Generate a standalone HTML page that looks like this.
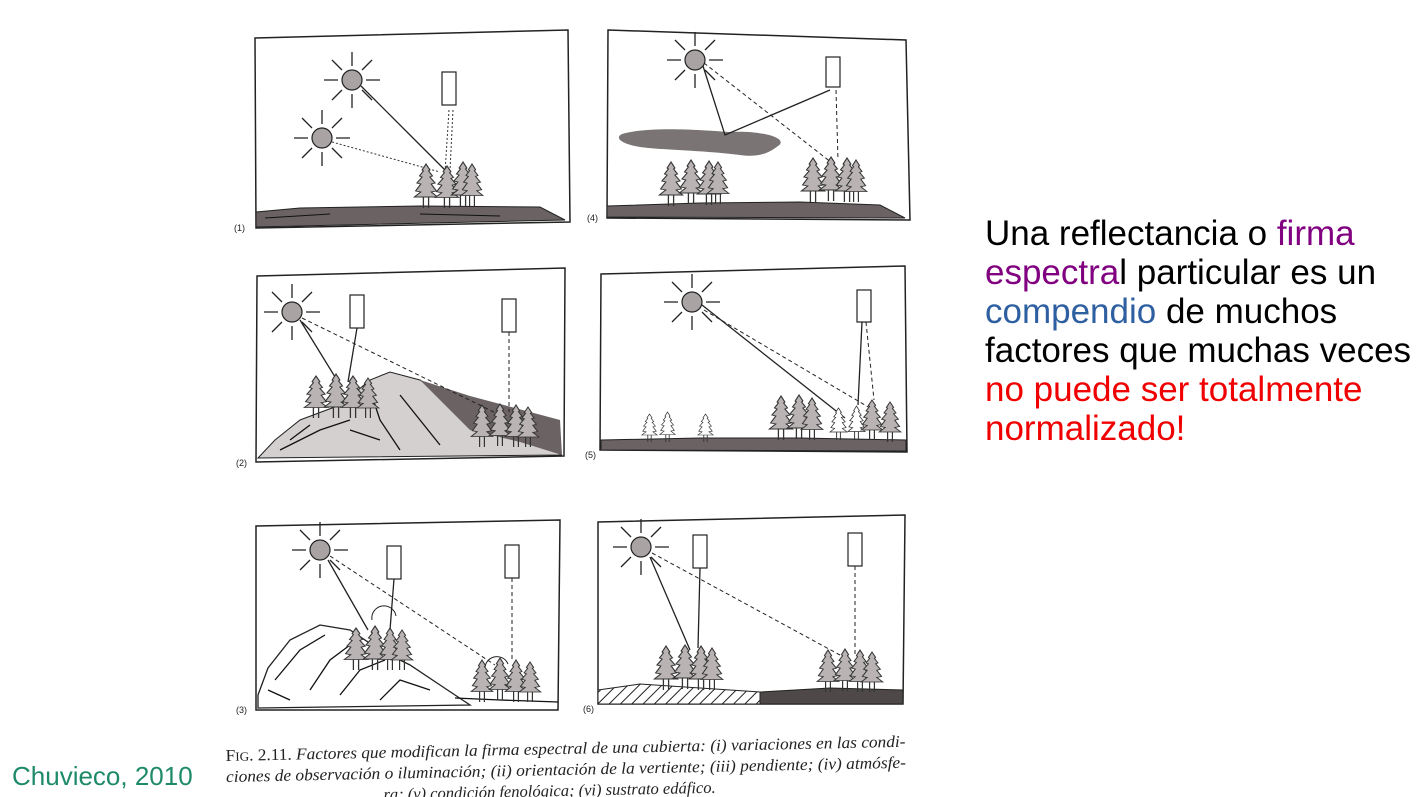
<!DOCTYPE html>
<html><head><meta charset="utf-8"><style>
html,body{margin:0;padding:0;background:#fff;width:1418px;height:797px;overflow:hidden}
#fig{position:absolute;left:0;top:0}
.rt{position:absolute;left:985px;top:214px;font-family:"Liberation Sans",sans-serif;font-size:35px;line-height:39px;color:#000;white-space:nowrap}
.cite{position:absolute;left:12px;top:761px;font-family:"Liberation Sans",sans-serif;font-size:26px;color:#1f8a6a}
</style></head><body>
<svg id="fig" width="1418" height="797" viewBox="0 0 1418 797">
<defs>
<symbol id="tree" viewBox="0 0 20 44" overflow="visible" preserveAspectRatio="none">
<path d="M10 0 L13 6 L12 7 L15 12 L13 13 L17 19 L14 20 L18 27 L14 28 L19 33 L1 33 L6 28 L2 27 L6 20 L3 19 L7 13 L5 12 L8 7 L7 6 Z" fill="#b9b3b3" stroke="#333" stroke-width="0.9"/>
<path d="M8 33 V44 M12 33 V44" stroke="#333" stroke-width="1"/>
</symbol>
<symbol id="wtree" viewBox="0 0 20 44" overflow="visible" preserveAspectRatio="none">
<path d="M10 0 L13 6 L12 7 L15 12 L13 13 L17 19 L14 20 L18 27 L14 28 L19 33 L1 33 L6 28 L2 27 L6 20 L3 19 L7 13 L5 12 L8 7 L7 6 Z" fill="#fff" stroke="#333" stroke-width="0.9"/>
<path d="M8 33 V44 M12 33 V44" stroke="#333" stroke-width="1"/>
</symbol>
<symbol id="sun" viewBox="-30 -30 60 60" overflow="visible">
<g stroke="#222" stroke-width="1.3"><path d="M0 -14 V-28 M0 14 V28 M-14 0 H-28 M14 0 H28 M10 -10 L20 -20 M-10 -10 L-20 -20 M10 10 L20 20 M-10 10 L-20 20"/></g>
<circle r="10" fill="#a9a3a3" stroke="#222" stroke-width="1.2"/>
</symbol>
<pattern id="hatch" width="8" height="8" patternUnits="userSpaceOnUse" patternTransform="rotate(45)"><rect width="8" height="8" fill="#fff"/><line x1="0" y1="0" x2="0" y2="8" stroke="#222" stroke-width="2"/></pattern>
</defs>
<g font-family="Liberation Sans,sans-serif" font-size="9" fill="#222">
<g>
<path d="M255 38 L568 30 L570 222 L256 228 Z" fill="#fff" stroke="#222" stroke-width="1.5"/>
<path d="M256 212 L300 208 L420 206 L540 207 L565 220 L256 227 Z" fill="#6b6363" stroke="#222"/>
<path d="M265 218 L330 214 M420 214 L500 216" stroke="#111" fill="none"/>
<use href="#sun" x="322" y="50" width="60" height="60"/>
<use href="#sun" x="292" y="108" width="60" height="60"/>
<rect x="442" y="72" width="14" height="33" fill="#fff" stroke="#222" stroke-width="1.2"/>
<path d="M361 86 L447 172" stroke="#222" stroke-width="1.3"/>
<path d="M332 142 L440 172 M449 110 L445 172 M453 110 L450 170" stroke="#333" stroke-dasharray="2,2" fill="none"/>
<use href="#tree" x="413" y="164" width="26" height="44"/>
<use href="#tree" x="434" y="166" width="26" height="42"/>
<use href="#tree" x="450" y="162" width="26" height="44"/>
<use href="#tree" x="460" y="164" width="24" height="42"/>
<text x="234" y="231">(1)</text>
</g>
<g>
<path d="M608 30 L906 40 L910 220 L607 218 Z" fill="#fff" stroke="#222" stroke-width="1.5"/>
<path d="M607 206 L700 203 L800 202 L880 205 L905 218 L607 217 Z" fill="#6b6363" stroke="#222"/>
<path d="M622 134 C650 126 700 130 730 132 C760 130 790 138 778 146 C770 152 760 158 740 155 C700 150 660 150 640 147 C622 144 614 138 622 134Z" fill="#7a7474"/>
<use href="#sun" x="665" y="30" width="60" height="60"/>
<rect x="826" y="57" width="14" height="30" fill="#fff" stroke="#222" stroke-width="1.2"/>
<path d="M703 66 L725 135 L830 90" stroke="#222" stroke-width="1.3" fill="none"/>
<path d="M704 63 L832 163 M836 90 L838 160" stroke="#222" stroke-dasharray="4,3" fill="none"/>
<use href="#tree" x="658" y="162" width="26" height="44"/>
<use href="#tree" x="678" y="160" width="26" height="44"/>
<use href="#tree" x="696" y="161" width="26" height="44"/>
<use href="#tree" x="706" y="162" width="24" height="42"/>
<use href="#tree" x="800" y="158" width="26" height="44"/>
<use href="#tree" x="818" y="157" width="26" height="44"/>
<use href="#tree" x="834" y="158" width="26" height="44"/>
<use href="#tree" x="844" y="160" width="24" height="42"/>
<text x="587" y="221">(4)</text>
</g>
<g>
<path d="M257 276 L565 268 L564 456 L256 462 Z" fill="#fff" stroke="#222" stroke-width="1.5"/>
<path d="M258 458 L275 440 L300 420 L340 405 L370 380 L390 372 L420 380 L450 400 L480 415 L520 435 L562 455 Z" fill="#d4d0d0" stroke="#222"/>
<path d="M420 380 L470 396 L560 420 L562 455 L520 442 L470 430 Z" fill="#6b6363"/>
<path d="M280 450 L320 430 L350 420 M370 390 L380 420 L400 450 M400 395 L420 420 L440 445 M290 440 L310 425 M350 430 L380 440" stroke="#111" fill="none" stroke-width="1.3"/>
<use href="#sun" x="262" y="282" width="60" height="60"/>
<rect x="350" y="295" width="14" height="33" fill="#fff" stroke="#222" stroke-width="1.2"/>
<rect x="502" y="299" width="14" height="33" fill="#fff" stroke="#222" stroke-width="1.2"/>
<path d="M300 320 L340 385 M357 328 L348 382" stroke="#222" stroke-width="1.3" fill="none"/>
<path d="M302 318 L500 415 M509 332 L509 412" stroke="#222" stroke-dasharray="4,3" fill="none"/>
<use href="#tree" x="303" y="376" width="26" height="42"/>
<use href="#tree" x="323" y="374" width="26" height="44"/>
<use href="#tree" x="340" y="376" width="26" height="42"/>
<use href="#tree" x="356" y="378" width="24" height="40"/>
<use href="#tree" x="470" y="405" width="24" height="42"/>
<use href="#tree" x="488" y="404" width="24" height="42"/>
<use href="#tree" x="504" y="405" width="24" height="42"/>
<use href="#tree" x="516" y="407" width="24" height="40"/>
<text x="236" y="466">(2)</text>
</g>
<g>
<path d="M601 274 L905 266 L907 452 L600 450 Z" fill="#fff" stroke="#222" stroke-width="1.5"/>
<path d="M601 440 L700 438 L800 438 L906 440 L906 451 L601 450 Z" fill="#6b6363" stroke="#222"/>
<use href="#sun" x="662" y="272" width="60" height="60"/>
<rect x="857" y="290" width="14" height="32" fill="#fff" stroke="#222" stroke-width="1.2"/>
<path d="M702 305 L845 418 M862 322 L858 405" stroke="#222" stroke-width="1.3" fill="none"/>
<path d="M704 310 L870 408 M866 322 L874 400" stroke="#222" stroke-dasharray="4,3" fill="none"/>
<use href="#wtree" x="641" y="414" width="17" height="28"/>
<use href="#wtree" x="659" y="412" width="17" height="30"/>
<use href="#wtree" x="697" y="414" width="17" height="28"/>
<use href="#tree" x="768" y="396" width="26" height="44"/>
<use href="#tree" x="786" y="395" width="26" height="44"/>
<use href="#tree" x="800" y="398" width="24" height="42"/>
<use href="#wtree" x="829" y="408" width="19" height="32"/>
<use href="#wtree" x="847" y="406" width="19" height="34"/>
<use href="#tree" x="860" y="400" width="24" height="40"/>
<use href="#tree" x="878" y="402" width="24" height="40"/>
<text x="585" y="458">(5)</text>
</g>
<g>
<path d="M256 526 L560 520 L558 710 L256 710 Z" fill="#fff" stroke="#222" stroke-width="1.5"/>
<path d="M258 695 L268 668 L290 640 L320 625 L350 630 L380 650 L410 665 L440 685 L470 705 L258 708 Z" fill="#fff" stroke="#222" stroke-width="1.3"/>
<path d="M275 680 L300 650 L325 635 M310 690 L330 660 L350 645 M340 695 L360 670 L385 660 M380 700 L400 680 L430 690 M268 690 L290 700 M455 698 L500 700 L558 702" stroke="#111" fill="none" stroke-width="1.3"/>
<use href="#sun" x="290" y="520" width="60" height="60"/>
<rect x="387" y="546" width="14" height="33" fill="#fff" stroke="#222" stroke-width="1.2"/>
<rect x="505" y="545" width="14" height="33" fill="#fff" stroke="#222" stroke-width="1.2"/>
<path d="M328 560 L368 630 M394 579 L390 630" stroke="#222" stroke-width="1.3" fill="none"/>
<path d="M330 556 L495 665 M512 578 L512 662" stroke="#222" stroke-dasharray="4,3" fill="none"/>
<path d="M372 620 A12 12 0 0 1 396 616 M485 670 A12 12 0 0 1 508 664" stroke="#222" fill="none"/>
<use href="#tree" x="343" y="628" width="26" height="42"/>
<use href="#tree" x="362" y="626" width="26" height="44"/>
<use href="#tree" x="378" y="628" width="24" height="42"/>
<use href="#tree" x="390" y="630" width="24" height="40"/>
<use href="#tree" x="470" y="660" width="24" height="42"/>
<use href="#tree" x="488" y="658" width="24" height="42"/>
<use href="#tree" x="504" y="660" width="24" height="42"/>
<use href="#tree" x="518" y="662" width="24" height="40"/>
<text x="236" y="713">(3)</text>
</g>
<g>
<path d="M598 522 L905 515 L903 704 L598 704 Z" fill="#fff" stroke="#222" stroke-width="1.5"/>
<path d="M598 690 L640 684 L700 688 L760 692 L760 704 L598 704 Z" fill="url(#hatch)" stroke="#222"/>
<path d="M760 692 L830 688 L903 690 L903 704 L760 704 Z" fill="#4e4848" stroke="#222"/>
<use href="#sun" x="611" y="517" width="60" height="60"/>
<rect x="693" y="535" width="14" height="33" fill="#fff" stroke="#222" stroke-width="1.2"/>
<rect x="848" y="533" width="14" height="33" fill="#fff" stroke="#222" stroke-width="1.2"/>
<path d="M650 557 L690 650 M700 568 L698 648" stroke="#222" stroke-width="1.3" fill="none"/>
<path d="M652 553 L840 655 M855 566 L855 655" stroke="#222" stroke-dasharray="4,3" fill="none"/>
<use href="#tree" x="653" y="646" width="26" height="44"/>
<use href="#tree" x="672" y="645" width="26" height="44"/>
<use href="#tree" x="688" y="646" width="26" height="44"/>
<use href="#tree" x="700" y="648" width="24" height="42"/>
<use href="#tree" x="816" y="650" width="24" height="42"/>
<use href="#tree" x="833" y="649" width="24" height="42"/>
<use href="#tree" x="848" y="650" width="24" height="42"/>
<use href="#tree" x="860" y="652" width="24" height="40"/>
<text x="583" y="712">(6)</text>
</g>
</g>
<g font-family="Liberation Serif,serif" font-size="16.5" font-style="italic" fill="#222" transform="rotate(-1.2 560 770)">
<text x="226" y="754" textLength="680" lengthAdjust="spacingAndGlyphs"><tspan font-style="normal">F</tspan><tspan font-style="normal" font-size="12.5">IG</tspan><tspan font-style="normal">. 2.11.</tspan>   Factores que modifican la firma espectral de una cubierta: (i) variaciones en las condi-</text>
<text x="226" y="775" textLength="680" lengthAdjust="spacingAndGlyphs">ciones de observación o iluminación; (ii) orientación de la vertiente; (iii) pendiente; (iv) atmósfe-</text>
<text x="383" y="796">ra; (v) condición fenológica; (vi) sustrato edáfico.</text>
</g>
</svg>
<div class="rt">Una reflectancia o <span style="color:#800080">firma</span><br><span style="color:#800080">espectra</span>l particular es un<br><span style="color:#2e5fa0">compendio</span> de muchos<br>factores que muchas veces<br><span style="color:#f00000">no puede ser totalmente</span><br><span style="color:#f00000">normalizado!</span></div>
<div class="cite">Chuvieco, 2010</div>
</body></html>
